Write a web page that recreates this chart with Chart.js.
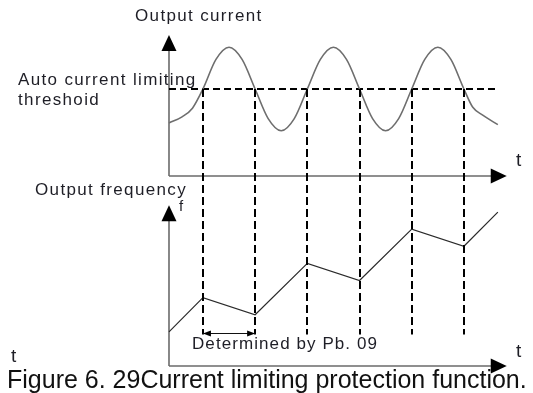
<!DOCTYPE html>
<html>
<head>
<meta charset="utf-8">
<script src="https://cdn.jsdelivr.net/npm/chart.js@4.4.1/dist/chart.umd.min.js"></script>
<style>
  html, body { margin: 0; padding: 0; background: #fff; }
  #wrap { position: relative; width: 533px; height: 393px; background: #fff; overflow: hidden; }
  #c { position: absolute; left: 0; top: 0; }
  .lbl { position: absolute; white-space: nowrap; font-family: "Liberation Sans", Arial, sans-serif; color: #1e1e26; line-height: 1; }
  .s17 { font-size: 17px; letter-spacing: 1.35px; }
</style>
</head>
<body>
<div id="wrap">
  <canvas id="c" width="533" height="393"></canvas>
  <div class="lbl s17" style="left:135px;top:7px;">Output current</div>
  <div class="lbl s17" style="left:18px;top:71px;">Auto current limiting</div>
  <div class="lbl s17" style="left:18px;top:91px;">threshoid</div>
  <div class="lbl s17" style="left:35px;top:181px;">Output frequency</div>
  <div class="lbl" style="left:179px;top:198px;font-size:15px;">f</div>
  <div class="lbl" style="left:516px;top:150px;font-size:19px;">t</div>
  <div class="lbl" style="left:516px;top:341px;font-size:19px;">t</div>
  <div class="lbl" style="left:11px;top:346px;font-size:19px;">t</div>
  <div class="lbl" style="left:192px;top:335px;font-size:17px;letter-spacing:1.08px;">Determined by Pb. 09</div>
  <div class="lbl" style="left:7px;top:367px;font-size:25px;color:#111;">Figure 6. 29Current limiting protection function.</div>
</div>
<script>
// ---- data (time in half-periods of the current wave) ----
const TIME    = [0.35, 0.6, 0.8, 1.0, 1.25, 1.5, 1.75, 2.0, 2.25, 2.5, 2.75, 3.0, 3.25, 3.5, 3.75, 4.0, 4.25, 4.5, 4.75, 5.0, 5.25, 5.5, 5.75, 6.0, 6.17, 6.36, 6.65];
const CURRENT = [0.61, 0.68, 0.78, 1.0, 1.34, 1.48, 1.34, 1.0, 0.66, 0.52, 0.66, 1.0, 1.34, 1.48, 1.34, 1.0, 0.66, 0.52, 0.66, 1.0, 1.34, 1.48, 1.34, 1.0, 0.79, 0.70, 0.59];
const THRESHOLD = 1.0;
const THRESHOLD_SPAN = [0.35, 6.67];
const FREQ_TIME = [0.35, 1, 2, 3, 4, 5, 6, 6.65];
const FREQUENCY = [10, 20, 15, 30, 25, 40, 35, 45];
const CROSSINGS = [1, 2, 3, 4, 5, 6];
const DROP_END_F = 9.2;      // where the dashed drop lines stop (frequency units)
const DIM_F = 9.6;           // level of the "Determined by Pb. 09" dimension arrow
const DIM_SPAN = [1, 2];
const ORIGIN_T = 0.35;
const AXIS_END_T = 6.82;
const CUR_AXIS_TOP = 1.62;
const FREQ_AXIS_TOP = 47;
// view window
const X_VIEW = [-2.8875, 7.3233];
const CUR_VIEW = [-2.494, 2.023];
const FREQ_VIEW = [-7.89, 107.0];

const pts = (xs, ys) => xs.map((x, i) => ({ x, y: ys[i] }));

const AXIS_COLOR = '#6a6a6a';

const overlay = {
  id: 'overlay',
  afterDatasetsDraw(chart) {
    const { ctx, scales } = chart;
    const xs = scales.x, yc = scales.yCur, yf = scales.yFreq;
    ctx.save();
    // dashed drop lines
    ctx.strokeStyle = '#000';
    ctx.lineWidth = 2;
    ctx.setLineDash([8, 4]);
    CROSSINGS.forEach(t => {
      const x = Math.round(xs.getPixelForValue(t));
      ctx.beginPath();
      ctx.moveTo(x, yc.getPixelForValue(THRESHOLD));
      ctx.lineTo(x, yf.getPixelForValue(DROP_END_F));
      ctx.stroke();
    });
    ctx.setLineDash([]);
    // arrowheads
    ctx.fillStyle = '#000';
    const tri = (tx, ty, dir) => {
      const L = 16, H = 7.5;
      ctx.beginPath();
      if (dir === 'up') { ctx.moveTo(tx, ty); ctx.lineTo(tx - H, ty + L); ctx.lineTo(tx + H, ty + L); }
      else { ctx.moveTo(tx, ty); ctx.lineTo(tx - L, ty - H); ctx.lineTo(tx - L, ty + H); }
      ctx.closePath(); ctx.fill();
    };
    const ox = xs.getPixelForValue(ORIGIN_T), ex = xs.getPixelForValue(AXIS_END_T);
    tri(ox, yc.getPixelForValue(CUR_AXIS_TOP), 'up');
    tri(ex, yc.getPixelForValue(0), 'right');
    tri(ox, yf.getPixelForValue(FREQ_AXIS_TOP), 'up');
    tri(ex, yf.getPixelForValue(0), 'right');
    // dimension arrow
    const y = Math.round(yf.getPixelForValue(DIM_F)) + 0.5;
    const x1 = xs.getPixelForValue(DIM_SPAN[0]), x2 = xs.getPixelForValue(DIM_SPAN[1]);
    ctx.strokeStyle = '#111'; ctx.lineWidth = 1;
    ctx.beginPath(); ctx.moveTo(x1, y); ctx.lineTo(x2, y); ctx.stroke();
    ctx.beginPath(); ctx.moveTo(x1, y); ctx.lineTo(x1 + 8, y - 3); ctx.lineTo(x1 + 8, y + 3); ctx.closePath(); ctx.fill();
    ctx.beginPath(); ctx.moveTo(x2, y); ctx.lineTo(x2 - 8, y - 3); ctx.lineTo(x2 - 8, y + 3); ctx.closePath(); ctx.fill();
    ctx.restore();
  }
};

const lineDs = (data, axis, color, width, extra) => Object.assign({
  data, yAxisID: axis, showLine: true, borderColor: color, borderWidth: width,
  pointRadius: 0, pointHoverRadius: 0, fill: false, tension: 0
}, extra || {});

new Chart(document.getElementById('c'), {
  type: 'scatter',
  data: {
    datasets: [
      lineDs(pts(TIME, CURRENT), 'yCur', '#6e6e6e', 1.6, { cubicInterpolationMode: 'monotone' }),
      lineDs(pts(THRESHOLD_SPAN, [THRESHOLD, THRESHOLD]), 'yCur', '#000', 2, { borderDash: [7, 4] }),
      lineDs(pts([ORIGIN_T, AXIS_END_T - 0.2], [0, 0]), 'yCur', AXIS_COLOR, 1.6),
      lineDs(pts([ORIGIN_T, ORIGIN_T], [0, CUR_AXIS_TOP - 0.1]), 'yCur', AXIS_COLOR, 1.6),
      lineDs(pts(FREQ_TIME, FREQUENCY), 'yFreq', '#2a2a2a', 1.2),
      lineDs(pts([ORIGIN_T, AXIS_END_T - 0.2], [0, 0]), 'yFreq', AXIS_COLOR, 1.6),
      lineDs(pts([ORIGIN_T, ORIGIN_T], [0, FREQ_AXIS_TOP - 2]), 'yFreq', AXIS_COLOR, 1.6)
    ]
  },
  options: {
    responsive: false,
    animation: false,
    devicePixelRatio: 1,
    layout: { padding: 0 },
    events: [],
    plugins: { legend: { display: false }, tooltip: { enabled: false }, title: { display: false } },
    scales: {
      x: { type: 'linear', display: false, min: X_VIEW[0], max: X_VIEW[1] },
      yCur: { type: 'linear', display: false, min: CUR_VIEW[0], max: CUR_VIEW[1] },
      yFreq: { type: 'linear', display: false, min: FREQ_VIEW[0], max: FREQ_VIEW[1] }
    }
  },
  plugins: [overlay]
});
</script>
</body>
</html>
